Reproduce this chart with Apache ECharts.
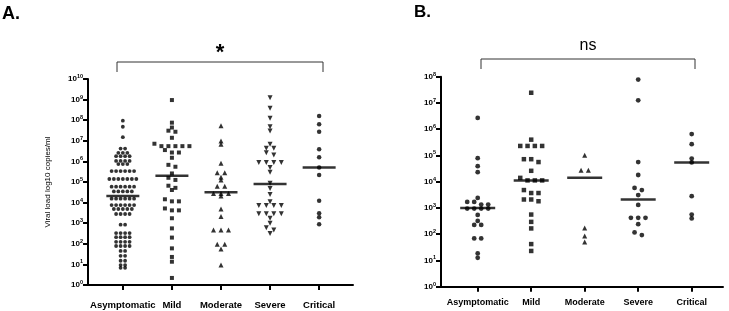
<!DOCTYPE html>
<html><head><meta charset="utf-8">
<script src="https://cdn.jsdelivr.net/npm/echarts@6/dist/echarts.min.js"></script>
<style>html,body{margin:0;padding:0;background:#fff}#c{width:729px;height:311px}</style>
</head><body><div id="c"></div>
<script>
const categories = ['Asymptomatic', 'Mild', 'Moderate', 'Severe', 'Critical'];
const yAxisTitle = 'Viral load log10 copies/ml';

// Panel A (copies/ml)
const aAsymptomatic = [9.5e7, 4.8e7, 1.5e7, 4.2e6, 4.2e6, 2.6e6, 2.6e6, 2.6e6, 1.8e6, 1.8e6, 1.8e6, 1.8e6,
  1.05e6, 1.05e6, 1.05e6, 1.05e6, 7.4e5, 7.4e5, 7.4e5, 3.4e5, 3.4e5, 3.4e5, 3.4e5, 3.4e5, 3.4e5,
  1.4e5, 1.4e5, 1.4e5, 1.4e5, 1.4e5, 1.4e5, 1.4e5, 5.9e4, 5.9e4, 5.9e4, 5.9e4, 5.9e4, 5.9e4,
  3.5e4, 3.5e4, 3.5e4, 3.5e4, 3.5e4, 1.55e4, 1.55e4, 1.55e4, 1.55e4, 1.55e4, 1.55e4,
  7.6e3, 7.6e3, 7.6e3, 7.6e3, 7.6e3, 7.6e3, 4.9e3, 4.9e3, 4.9e3, 4.9e3, 4.9e3, 2.8e3, 2.8e3, 2.8e3, 2.8e3,
  850, 850, 330, 330, 330, 330, 210, 210, 210, 210, 125, 125, 125, 125, 78, 78, 78, 78,
  45, 45, 26, 26, 15, 15, 9.3, 9.3, 6.8, 6.8];
const aMild = [9.5e8, 7.6e7, 4.4e7, 3.1e7, 2.75e7, 1.4e7, 7.2e6, 5.5e6, 5.5e6, 5.5e6, 5.5e6, 5.5e6,
  3.55e6, 2.7e6, 2.7e6, 1.5e6, 6.8e5, 5.5e5, 2.6e5, 1.6e5, 1.26e5, 6.6e4, 5.2e4, 4.1e4,
  1.45e4, 1.15e4, 1.15e4, 5.2e3, 4.2e3, 4.2e3, 1.74e3, 560, 200, 60, 23, 13.5, 2.2];
const aModerate = [5.4e7, 9.8e6, 6.8e6, 8.1e5, 2.8e5, 2.8e5, 1.7e5, 1.26e5, 6.3e4, 6.3e4,
  2.8e4, 2.8e4, 2.8e4, 2.1e4, 4.9e3, 2.1e3, 470, 470, 470, 95, 95, 56, 9.3];
const aSevere = [1.23e9, 3.8e8, 1.23e8, 4.8e7, 3.0e7, 6.8e6, 4.3e6, 4.3e6, 2.6e6, 2.05e6,
  8.9e5, 8.9e5, 8.9e5, 8.9e5, 5.0e5, 2.95e5, 8.7e4, 4.9e4, 2.5e4, 1.1e4,
  7.2e3, 7.2e3, 7.2e3, 7.2e3, 2.9e3, 2.9e3, 2.9e3, 2.9e3, 1.74e3, 1.0e3, 600, 470, 320];
const aCritical = [1.6e8, 6.3e7, 2.75e7, 3.9e6, 1.6e6, 5.0e5, 2.2e5, 1.23e4, 3.0e3, 1.95e3, 890];
const aMedians = [2.1e4, 2.0e5, 3.2e4, 7.9e4, 5.0e5];

// Panel B (copies/ml)
const bAsymptomatic = [2.7e6, 7.9e4, 3.9e4, 2.3e4, 2.4e3, 1.7e3, 1.7e3, 1.35e3, 1.35e3,
  950, 950, 950, 950, 540, 320, 225, 225, 69, 69, 18.6, 12.6];
const bMild = [2.45e7, 4.0e5, 2.3e5, 2.3e5, 2.3e5, 2.3e5, 7.2e4, 7.2e4, 5.6e4, 2.6e4, 1.4e4,
  1.12e4, 1.12e4, 1.12e4, 4.8e3, 3.7e3, 3.7e3, 2.1e3, 2.1e3, 1.8e3, 560, 295, 166, 42, 23];
const bModerate = [1.02e5, 2.75e4, 2.75e4, 174, 85, 51];
const bSevere = [7.8e7, 1.26e7, 5.6e4, 1.8e4, 5.8e3, 4.8e3, 3.1e3, 1.3e3, 420, 420, 420, 240, 117, 93];
const bCritical = [6.5e5, 2.7e5, 7.6e4, 5.4e4, 2.8e3, 560, 400];
const bMedians = [1.0e3, 1.12e4, 1.4e4, 2.1e3, 5.4e4];

const FONT = '"Liberation Sans", Arial, Helvetica, sans-serif';
const tickIdx = [0, 1, 2, 3, 4];

const chart = echarts.init(document.getElementById('c'), null, {renderer: 'canvas'});

function makeY(gi, max) {
  return {
    type: 'log', gridIndex: gi, logBase: 10, min: 1, max: max, interval: 1, splitNumber: 10,
    axisLine: {show: true, onZero: false, lineStyle: {color: '#000', width: 2}},
    axisTick: {show: true, length: 5, lineStyle: {color: '#000', width: 2}},
    minorTick: {show: false}, splitLine: {show: false},
    axisLabel: {
      margin: 5, color: '#000', fontFamily: FONT,
      formatter: function (v) { return '{b|10}{s|' + Math.round(Math.log10(v)) + '}'; },
      rich: {
        b: {fontSize: 8, fontWeight: 'bold', fontFamily: FONT, color: '#000'},
        s: {fontSize: 5.5, fontWeight: 'bold', fontFamily: FONT, color: '#000', padding: [0, 0, 5, 0]}
      }
    }
  };
}
function makeX(gi, min, max, fs, margin) {
  return {
    type: 'value', gridIndex: gi, min: min, max: max,
    axisLine: {show: true, onZero: false, lineStyle: {color: '#000', width: 2}},
    axisTick: {show: true, length: 5, customValues: tickIdx, lineStyle: {color: '#000', width: 2}},
    splitLine: {show: false},
    axisLabel: {
      customValues: tickIdx, margin: margin, color: '#000', fontFamily: FONT,
      fontSize: fs, fontWeight: 'bold',
      formatter: function (v) { return categories[Math.round(v)] || ''; }
    }
  };
}

const yA = makeY(0, 1e10);
yA.name = yAxisTitle;
yA.nameLocation = 'middle';
yA.nameGap = 36;
yA.nameTextStyle = {fontSize: 8, color: '#000', fontFamily: FONT};

chart.setOption({
  animation: false,
  backgroundColor: '#fff',
  textStyle: {fontFamily: FONT},
  title: [
    {text: 'A.', left: 2, top: 5, padding: 0, textStyle: {fontSize: 18, fontWeight: 'bold', color: '#000', fontFamily: FONT}},
    {text: 'B.', left: 414, top: 4, padding: 0, textStyle: {fontSize: 17, fontWeight: 'bold', color: '#000', fontFamily: FONT}}
  ],
  grid: [
    {left: 88, top: 79, width: 265, height: 206, containLabel: false, outerBoundsMode: 'none'},
    {left: 441, top: 76.7, width: 282, height: 210, containLabel: false, outerBoundsMode: 'none'}
  ],
  xAxis: [makeX(0, -0.71, 4.69, 9.5, 15.5), makeX(1, -0.686, 4.585, 9, 11)],
  yAxis: [yA, makeY(1, 1e8)],
  graphic: [
    {type: 'polyline', shape: {points: [[117, 72], [117, 62], [323, 62], [323, 72]]}, style: {stroke: '#333', lineWidth: 1, fill: null}},
    {type: 'text', x: 220, y: 53, style: {text: '*', fontSize: 22, fontWeight: 'bold', fill: '#000', align: 'center', verticalAlign: 'middle', fontFamily: FONT}},
    {type: 'polyline', shape: {points: [[481, 69], [481, 59], [695, 59], [695, 69]]}, style: {stroke: '#333', lineWidth: 1, fill: null}},
    {type: 'text', x: 588, y: 45.5, style: {text: 'ns', fontSize: 16, fill: '#000', align: 'center', verticalAlign: 'middle', fontFamily: FONT}}
  ],
  series: []
});

function swarm(gi, ci, values, step, binH) {
  const p0 = chart.convertToPixel({gridIndex: gi}, [0, 10]);
  const p1 = chart.convertToPixel({gridIndex: gi}, [1, 10]);
  const ppu = p1[0] - p0[0];
  const pts = values.map(function (v) { return {v: v, y: chart.convertToPixel({gridIndex: gi}, [ci, v])[1]}; });
  pts.sort(function (a, b) { return a.y - b.y; });
  const out = [];
  let i = 0;
  while (i < pts.length) {
    let j = i + 1;
    while (j < pts.length && pts[j].y - pts[i].y < binH) j++;
    const n = j - i;
    for (let k = 0; k < n; k++) out.push([ci + (k - (n - 1) / 2) * step / ppu, pts[i + k].v]);
    i = j;
  }
  return out;
}

const triDown = 'path://M0,0L10,0L5,9Z';
function sc(gi, data, symbol, size) {
  return {type: 'scatter', xAxisIndex: gi, yAxisIndex: gi, data: data, symbol: symbol, symbolSize: size,
    itemStyle: {color: '#000'}, silent: true, z: 2};
}
function med(gi, meds, w) {
  return {type: 'scatter', xAxisIndex: gi, yAxisIndex: gi, data: meds.map(function (m, i) { return [i, m]; }),
    symbol: 'rect', symbolSize: [w, 2.5], itemStyle: {color: '#000'}, silent: true, z: 3};
}

chart.setOption({
  series: [
    sc(0, swarm(0, 0, aAsymptomatic, 4.5, 2.5), 'circle', 3.8),
    sc(0, swarm(0, 1, aMild, 7, 2.5), 'rect', 4),
    sc(0, swarm(0, 2, aModerate, 7.5, 2.5), 'triangle', 5),
    sc(0, swarm(0, 3, aSevere, 7.5, 2.5), triDown, 5),
    sc(0, swarm(0, 4, aCritical, 7, 2.5), 'circle', 4.5),
    med(0, aMedians, 33),
    sc(1, swarm(1, 0, bAsymptomatic, 7, 3), 'circle', 4.8),
    sc(1, swarm(1, 1, bMild, 7.3, 3), 'rect', 4.5),
    sc(1, swarm(1, 2, bModerate, 7.3, 3), 'triangle', 5),
    sc(1, swarm(1, 3, bSevere, 7.3, 3), 'circle', 4.8),
    sc(1, swarm(1, 4, bCritical, 7.3, 3), 'circle', 4.8),
    med(1, bMedians, 35)
  ]
});
</script></body></html>
